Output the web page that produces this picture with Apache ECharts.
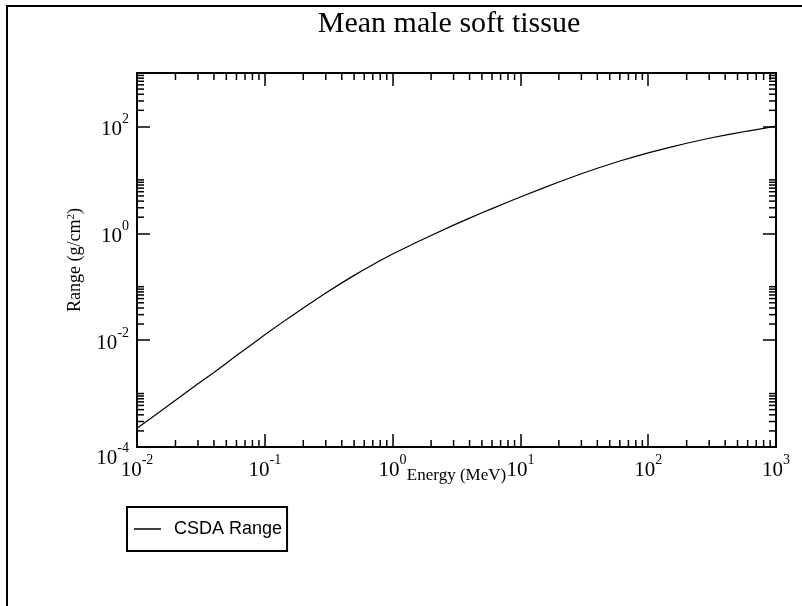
<!DOCTYPE html>
<html>
<head>
<meta charset="utf-8">
<script src="https://cdn.jsdelivr.net/npm/echarts@6/dist/echarts.min.js"></script>
<style>html,body{margin:0;padding:0;background:#fff;}#chart{width:802px;height:606px;}</style>
</head>
<body>
<div id="chart"></div>
<script>
// Electron energy (MeV)
const energy = [0.01, 0.015, 0.02, 0.03, 0.04, 0.05, 0.06, 0.08, 0.1, 0.15, 0.2, 0.3, 0.4, 0.5, 0.6, 0.8,
  1, 1.5, 2, 3, 4, 5, 6, 8, 10, 15, 20, 30, 40, 50, 60, 80, 100, 150, 200, 300, 400, 500, 600, 800, 1000];
// CSDA range (g/cm^2)
const csdaRange = [2.25e-4, 4.5e-4, 7.5e-4, 1.52e-3, 2.48e-3, 3.68e-3, 5.15e-3, 8.5e-3, 1.26e-2, 2.5e-2, 4.0e-2, 7.6e-2,
  0.118, 0.163, 0.21, 0.31, 0.41, 0.66, 0.91, 1.42, 1.92, 2.42, 2.9, 3.85, 4.78, 7.0, 9.1, 13.0, 16.5, 19.6, 22.5, 27.6,
  32, 41, 48.5, 60, 69, 76, 82, 92, 101];
const seriesName = 'CSDA Range';
const titleText = 'Mean male soft tissue';
const xName = 'Energy (MeV)';
const yName = 'Range (g/cm{s|2})';
const xMin = 0.01, xMax = 1000, yMin = 1e-4, yMax = 1000;
// minor tick positions
const minorMult = [2, 3, 4, 5, 6, 7, 8, 9];
const xDecades = [0.01, 0.1, 1, 10, 100];
const yMinorMult = [2, 3, 4, 5, 6, 7, 8, 9, 10];
const yMajors = [1e-4, 1e-2, 1, 100];

const xMinorTicks = [];
xDecades.forEach(d => minorMult.forEach(m => xMinorTicks.push([d * m, 1])));
const yMinorTicks = [];
yMajors.forEach(d => yMinorMult.forEach(m => yMinorTicks.push([1, d * m])));

const serif = 'Liberation Serif';
const labelRich = {
  b: { fontFamily: serif, fontSize: 21, color: '#000', lineHeight: 28, verticalAlign: 'bottom' },
  s: { fontFamily: serif, fontSize: 14, color: '#000', lineHeight: 28, verticalAlign: 'top' },
  e: { fontSize: 10, lineHeight: 16 }
};
function powLabel(v) {
  const e = Math.round(Math.log10(v));
  return '{b|10}{s|' + e + '}';
}
function powLabelY(v) {
  const e = Math.round(Math.log10(v));
  if (v <= yMin * 1.0001) return '{e| }\n{b|10}{s|' + e + '}';
  return '{b|10}{s|' + e + '}';
}
const axisLineStyle = { color: '#000', width: 2 };
const tickStyle = { color: '#000', width: 1.5 };

const chart = echarts.init(document.getElementById('chart'), null, { renderer: 'canvas' });
const MINOR = 7;
chart.setOption({
  backgroundColor: '#fff',
  animation: false,
  title: {
    text: titleText, left: 444, top: 4, textAlign: 'center',
    textStyle: { fontFamily: serif, fontSize: 30, fontWeight: 'normal', color: '#000' }
  },
  graphic: [{
    type: 'polyline', silent: true,
    shape: { points: [[7, 606], [7, 6], [802, 6]] },
    style: { stroke: '#000', lineWidth: 2, fill: null }
  }],
  legend: {
    data: [seriesName], left: 127, top: 507, orient: 'horizontal',
    icon: 'rect', itemWidth: 27, itemHeight: 1.5,
    borderColor: '#000', borderWidth: 2, padding: [13, 5, 13, 7],
    itemStyle: { color: '#000' },
    textStyle: { fontFamily: 'Liberation Sans', fontSize: 18, color: '#000', padding: [0, 0, 0, 8] }
  },
  grid: { left: 137, right: 26, top: 73, bottom: 159, containLabel: false },
  xAxis: [{
    type: 'log', logBase: 10, min: xMin, max: xMax, position: 'bottom', splitNumber: 5,
    axisLine: { lineStyle: axisLineStyle }, splitLine: { show: false },
    axisTick: { inside: true, length: 13, lineStyle: tickStyle },
    axisLabel: { formatter: powLabel, rich: labelRich, margin: 6, color: '#000' },
    name: xName, nameLocation: 'middle', nameGap: 20, nameMoveOverlap: false,
    nameTextStyle: { fontFamily: serif, fontSize: 17, color: '#000' }
  }, {
    type: 'log', logBase: 10, min: xMin, max: xMax, position: 'top', splitNumber: 5,
    axisLine: { lineStyle: axisLineStyle }, splitLine: { show: false },
    axisTick: { inside: true, length: 13, lineStyle: tickStyle },
    axisLabel: { show: false }
  }],
  yAxis: [{
    type: 'log', logBase: 10, min: yMin, max: yMax, position: 'left', interval: 2,
    axisLine: { lineStyle: axisLineStyle }, splitLine: { show: false },
    axisTick: { inside: true, length: 13, lineStyle: tickStyle },
    axisLabel: { formatter: powLabelY, rich: labelRich, margin: 8, color: '#000', showMaxLabel: false },
    name: yName, nameLocation: 'middle', nameGap: 53, nameMoveOverlap: false,
    nameTextStyle: { fontFamily: serif, fontSize: 18, color: '#000',
      rich: { s: { fontFamily: serif, fontSize: 11, color: '#000', verticalAlign: 'top' } } }
  }, {
    type: 'log', logBase: 10, min: yMin, max: yMax, position: 'right', interval: 2,
    axisLine: { lineStyle: axisLineStyle }, splitLine: { show: false },
    axisTick: { inside: true, length: 13, lineStyle: tickStyle },
    axisLabel: { show: false }
  }],
  series: [{
    name: seriesName, type: 'line', xAxisIndex: 0, yAxisIndex: 0,
    data: energy.map((e, i) => [e, csdaRange[i]]),
    showSymbol: false, symbol: 'none', smooth: false,
    lineStyle: { color: '#000', width: 1.2 }, itemStyle: { color: '#000' }
  }, {
    name: 'xminor', type: 'custom', xAxisIndex: 0, yAxisIndex: 0, silent: true,
    data: xMinorTicks,
    renderItem: function (params, api) {
      const cs = params.coordSys;
      const x = api.coord([api.value(0), api.value(1)])[0];
      return { type: 'group', children: [
        { type: 'line', shape: { x1: x, y1: cs.y + cs.height, x2: x, y2: cs.y + cs.height - MINOR }, style: { stroke: '#000', lineWidth: 1.5 } },
        { type: 'line', shape: { x1: x, y1: cs.y, x2: x, y2: cs.y + MINOR }, style: { stroke: '#000', lineWidth: 1.5 } }
      ] };
    }
  }, {
    name: 'yminor', type: 'custom', xAxisIndex: 0, yAxisIndex: 0, silent: true,
    data: yMinorTicks,
    renderItem: function (params, api) {
      const cs = params.coordSys;
      const y = api.coord([api.value(0), api.value(1)])[1];
      return { type: 'group', children: [
        { type: 'line', shape: { x1: cs.x, y1: y, x2: cs.x + MINOR, y2: y }, style: { stroke: '#000', lineWidth: 1.5 } },
        { type: 'line', shape: { x1: cs.x + cs.width, y1: y, x2: cs.x + cs.width - MINOR, y2: y }, style: { stroke: '#000', lineWidth: 1.5 } }
      ] };
    }
  }]
});
</script>
</body>
</html>
